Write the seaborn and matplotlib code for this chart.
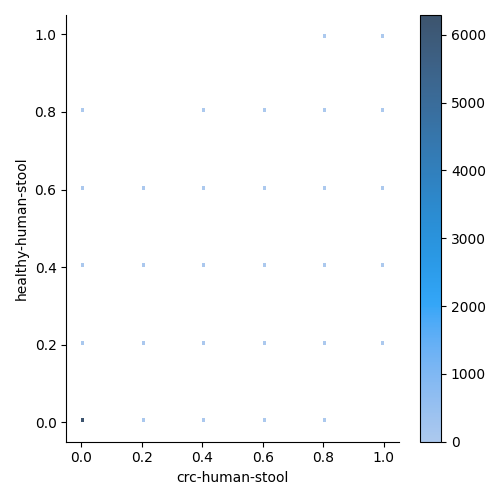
import numpy as np
import pandas as pd
import seaborn as sns
import matplotlib
matplotlib.use("Agg")
import matplotlib.pyplot as plt

crc = [0.0, 0.2, 0.4, 0.6, 0.8,
       0.0, 0.2, 0.4, 0.6, 0.8, 1.0,
       0.0, 0.2, 0.4, 0.6, 0.8, 1.0,
       0.0, 0.2, 0.4, 0.6, 0.8, 1.0,
       0.0, 0.4, 0.6, 0.8, 1.0,
       0.8, 1.0]
healthy = [0.0, 0.0, 0.0, 0.0, 0.0,
           0.2, 0.2, 0.2, 0.2, 0.2, 0.2,
           0.4, 0.4, 0.4, 0.4, 0.4, 0.4,
           0.6, 0.6, 0.6, 0.6, 0.6, 0.6,
           0.8, 0.8, 0.8, 0.8, 0.8,
           1.0, 1.0]
counts = [6290, 60, 30, 20, 10,
          80, 40, 30, 20, 15, 10,
          50, 30, 25, 20, 15, 10,
          40, 25, 20, 15, 12, 10,
          20, 12, 10, 10, 10,
          8, 12]

df = pd.DataFrame({"crc-human-stool": crc,
                   "healthy-human-stool": healthy,
                   "n": counts})

g = sns.displot(data=df, x="crc-human-stool", y="healthy-human-stool",
                weights="n", kind="hist", cbar=True,
                bins=100, binrange=(0, 1),
                height=5, aspect=1)
g.figure.savefig("out.png", dpi=100)
